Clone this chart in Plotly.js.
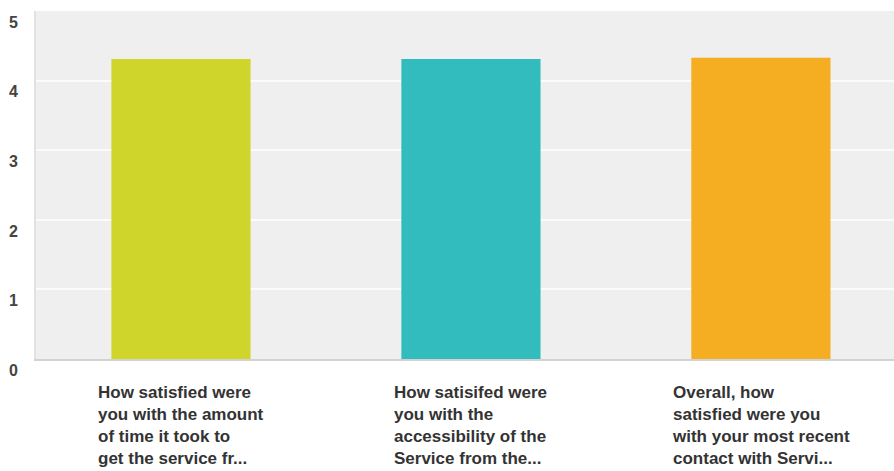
<!DOCTYPE html>
<html>
<head>
<meta charset="utf-8">
<script src="https://cdn.plot.ly/plotly-3.0.1.min.js"></script>
<style>
  html, body { margin: 0; padding: 0; background: #ffffff; }
  #chart { width: 894px; height: 471px; }
</style>
</head>
<body>
<div id="chart"></div>
<script>
const categories = [
  "How satisfied were<br>you with the amount<br>of time it took to<br>get the service fr...",
  "How satisifed were<br>you with the<br>accessibility of the<br>Service from the...",
  "Overall, how<br>satisfied were you<br>with your most recent<br>contact with Servi..."
];
const values = [4.31, 4.31, 4.33];
const barColors = ["#cfd52a", "#33bcbe", "#f5ae22"];
const yTickValues = [0, 1, 2, 3, 4, 5];

const catIndex = categories.map((c, i) => i);

const trace = {
  type: "bar",
  x: catIndex,
  y: values,
  marker: { color: barColors, line: { width: 0 } },
  width: 0.48,
  hoverinfo: "skip"
};

const annotations = categories.map((c, i) => ({
  xref: "x", yref: "paper",
  x: i, y: 0,
  yanchor: "top", xanchor: "center",
  yshift: -23,
  borderpad: 0,
  align: "left",
  showarrow: false,
  text: c,
  font: { family: "Liberation Sans, Arial, sans-serif", size: 17, color: "#333333", weight: "bold" }
}));

const layout = {
  width: 894, height: 471,
  margin: { l: 36, r: 0, t: 11, b: 112, pad: 0 },
  paper_bgcolor: "#ffffff",
  plot_bgcolor: "#efefef",
  showlegend: false,
  bargap: 0.52,
  xaxis: {
    range: [-0.5, 2.459],
    showticklabels: false,
    showgrid: false,
    zeroline: false,
    showline: true,
    linecolor: "#d2d2d2",
    linewidth: 2,
    ticks: "",
    fixedrange: true
  },
  yaxis: {
    range: [0, 5],
    tickvals: yTickValues,
    ticktext: yTickValues.map(String),
    ticklabelposition: "outside bottom",
    ticklabelstandoff: 13,
    ticks: "",
    showgrid: true,
    gridcolor: "#fbfbfb",
    gridwidth: 2,
    zeroline: false,
    showline: true,
    linecolor: "#e2e2e2",
    linewidth: 2,
    tickfont: { family: "Liberation Sans, Arial, sans-serif", size: 16, color: "#444444", weight: "bold" },
    fixedrange: true
  },
  annotations: annotations
};

Plotly.newPlot("chart", [trace], layout, { displayModeBar: false, staticPlot: true });
</script>
</body>
</html>
